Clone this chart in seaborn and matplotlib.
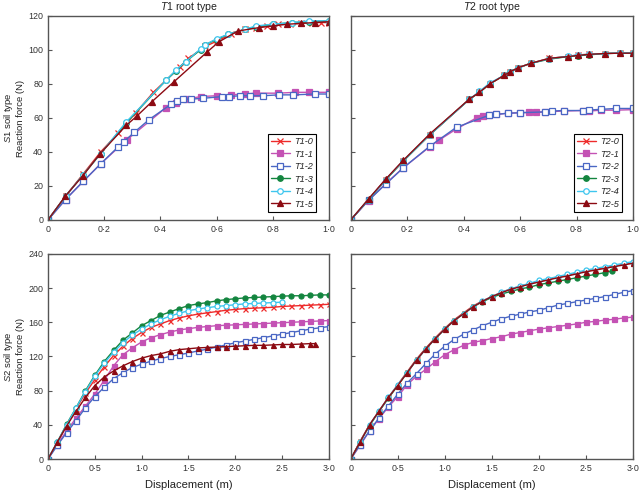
import numpy as np
import pandas as pd
import seaborn as sns
import matplotlib.pyplot as plt
from matplotlib.ticker import FuncFormatter

# ---- S1 soil, T1 root type ----
s1t1_x0 = [0, 0.0625, 0.125, 0.1875, 0.25, 0.3125, 0.375, 0.47, 0.5, 0.56, 0.6, 0.65, 0.7, 0.74, 0.78, 0.82, 0.86, 0.9, 0.94, 0.97, 1.0]
s1t1_y0 = [0, 14, 27, 40, 51, 63, 75, 90, 95, 102, 105, 109, 112, 113, 114, 115, 115, 115.5, 116, 116, 116]
s1t1_x1 = [0, 0.0625, 0.125, 0.1875, 0.28, 0.42, 0.455, 0.49, 0.545, 0.6, 0.65, 0.7, 0.74, 0.82, 0.88, 0.93, 1.0]
s1t1_y1 = [0, 12, 22.6, 33, 47, 66, 69, 71, 72.5, 73, 73.5, 74, 74.5, 74.5, 75, 75, 75]
s1t1_x2 = [0, 0.0625, 0.125, 0.1875, 0.25, 0.27, 0.307, 0.36, 0.438, 0.46, 0.48, 0.51, 0.553, 0.62, 0.645, 0.685, 0.72, 0.765, 0.823, 0.873, 0.95, 1.0]
s1t1_y2 = [0, 12, 22.6, 33, 43, 46, 51.5, 59, 68, 70, 71, 71, 71.5, 72.5, 72.5, 73, 73, 73, 73.5, 73.5, 74, 74]
s1t1_x3 = [0, 0.0625, 0.125, 0.1875, 0.278, 0.42, 0.455, 0.49, 0.543, 0.56, 0.6, 0.64, 0.7, 0.74, 0.8, 0.87, 0.93, 1.0]
s1t1_y3 = [0, 14, 26.5, 39, 57, 82, 87.5, 93, 100, 103, 106, 109, 112, 113.5, 115, 116, 116.5, 117]
s1t1_y4 = [0, 14, 26.5, 39, 57.5, 82, 88, 93, 100.5, 103, 106.5, 109, 112, 114, 115, 116, 117, 117]
s1t1_x5 = [0, 0.062, 0.124, 0.186, 0.278, 0.316, 0.37, 0.447, 0.565, 0.607, 0.675, 0.75, 0.8, 0.85, 0.9, 0.95, 1.0]
s1t1_y5 = [0, 14, 26, 39, 55.5, 61, 69.5, 81, 98.5, 104.5, 111, 113, 114, 115, 115.5, 116, 116.5]

# ---- S1 soil, T2 root type ----
s1t2_xa = [0, 0.063, 0.124, 0.186, 0.28, 0.42, 0.456, 0.493, 0.544, 0.564, 0.594, 0.637, 0.704, 0.77, 0.805, 0.843, 0.9, 0.953, 1.0]
s1t2_y0 = [0, 12, 23.7, 34.7, 50, 70.8, 75, 80, 85, 87, 89.4, 92, 95, 96, 97, 97.3, 97.8, 98, 98]
s1t2_y3 = [0, 12, 23.5, 34.5, 50, 70.8, 75, 80, 85, 87, 89.4, 92, 94.5, 96, 96.5, 97, 97.8, 98, 98]
s1t2_y4 = [0, 12, 23.7, 34.7, 50, 70.8, 75.5, 80.5, 85, 87, 89.4, 92, 94.8, 96.2, 97, 97.3, 97.8, 98.2, 98]
s1t2_y5 = [0, 12.3, 24, 35, 50.5, 71, 75, 80, 85, 87, 89.5, 92, 95, 96, 96.7, 97.3, 97.8, 98, 98]
s1t2_x1 = [0, 0.063, 0.124, 0.186, 0.28, 0.314, 0.375, 0.446, 0.468, 0.49, 0.515, 0.556, 0.6, 0.633, 0.657, 0.69, 0.755, 0.822, 0.846, 0.887, 0.94, 1.0]
s1t2_y1 = [0, 11.4, 21.4, 30.6, 43, 47, 53.5, 60, 61, 61.5, 62, 62.7, 63, 63.2, 63.3, 63.5, 64, 64.3, 64, 64.5, 64.5, 64.8]
s1t2_x2 = [0, 0.063, 0.124, 0.186, 0.28, 0.375, 0.49, 0.515, 0.556, 0.6, 0.69, 0.712, 0.755, 0.822, 0.846, 0.887, 0.94, 1.0]
s1t2_y2 = [0, 11.5, 21, 30.6, 43.3, 54.5, 61.5, 62, 62.7, 63, 63.5, 64, 64.3, 64.3, 64.6, 65, 65.5, 65.5]

# ---- S2 soil (displacement 0 - 3 m) ----
xb = [0, 0.1, 0.2, 0.3, 0.4, 0.5, 0.6, 0.7, 0.8, 0.9, 1.0, 1.1, 1.2, 1.3, 1.4, 1.5,
      1.6, 1.7, 1.8, 1.9, 2.0, 2.1, 2.2, 2.3, 2.4, 2.5, 2.6, 2.7, 2.8, 2.9, 3.0]
xb_25 = xb[:26]
xb_285 = [0, 0.1, 0.2, 0.3, 0.4, 0.5, 0.6, 0.7, 0.8, 0.9, 1.0, 1.1, 1.2, 1.3, 1.4, 1.5,
          1.6, 1.7, 1.8, 1.9, 2.0, 2.1, 2.2, 2.3, 2.4, 2.5, 2.6, 2.7, 2.8, 2.85]
xb_278 = [0, 0.1, 0.2, 0.3, 0.4, 0.5, 0.6, 0.7, 0.8, 0.9, 1.0, 1.1, 1.2, 1.3, 1.4, 1.5,
          1.6, 1.7, 1.8, 1.9, 2.0, 2.1, 2.2, 2.3, 2.4, 2.5, 2.6, 2.7, 2.78]

s2t1_y0 = [0, 19, 39, 59, 77, 93, 108, 121, 132, 141, 148, 154, 158, 162, 165, 167.5, 169.5, 171, 172.5, 174, 175, 176, 176.5, 177, 177.5, 178.5, 179, 179.5, 180, 180.5, 181]
s2t1_y1 = [0, 17, 33, 48, 62, 76, 92, 109, 122, 130, 137, 142, 145.5, 148.5, 151, 152.5, 154, 155, 156, 156.5, 157, 157.5, 158, 158.5, 159, 159.5, 160, 160.5, 161, 161.5, 162]
s2t1_y2 = [0, 16, 31, 45, 60, 73, 84, 94, 101, 107, 111, 114.5, 117.5, 120, 122, 124, 126.5, 128.5, 131, 133.5, 136, 138, 140, 142, 144, 146, 148, 150, 152, 153.5, 155]
s2t1_y3 = [0, 20, 41, 60, 80, 98, 114, 127, 139, 147.5, 156, 162, 168, 172, 176, 179.5, 181.5, 183, 185, 186.5, 187.5, 188.5, 189, 189.5, 190, 190.5, 191, 191, 191.5, 192, 192]
s2t1_y4 = [0, 20, 40, 60, 79, 97, 112, 125, 136, 145, 152, 158, 163, 167, 170.5, 173.5, 175.5, 177, 178.5, 179.5, 180.5, 181.5, 182, 182.5, 183, 183.5]
s2t1_y5 = [0, 20, 39, 56, 72, 86, 96, 103, 109, 114, 118, 121, 123, 126, 128, 129, 130, 130.5, 131, 131.5, 132, 132.5, 133, 133, 133.5, 134, 134, 134.5, 135, 135]

s2t2_y0 = [0, 21, 40, 56, 72, 87, 102, 117, 130, 142, 153, 163, 171, 179, 185, 190, 195, 199, 202, 205, 208, 210, 213, 215, 217.5, 220, 222, 224, 226, 228, 230]
s2t2_y1 = [0, 16, 33, 47, 61, 73, 87, 97, 105, 114, 122, 128, 133, 136.5, 138.5, 141, 143, 146, 148, 150, 152, 153.5, 155, 156.5, 158, 160, 161, 162.5, 163.5, 165, 166]
s2t2_y2 = [0, 17, 33, 48, 62, 76, 89, 100, 112, 123, 132, 140, 146, 151, 156, 160, 164, 167, 169.5, 172, 174, 177, 180, 182, 184, 186, 188, 190, 192.5, 195, 197]
s2t2_y3 = [0, 20, 39, 55.5, 71, 86, 101, 116, 129, 141, 152, 162, 170, 178, 184, 189, 193, 196, 199, 201, 204, 206, 208, 210, 212, 214, 216, 218, 220]
s2t2_y4 = [0, 20, 40, 56, 72, 87, 101, 116, 129, 141, 152, 162, 170, 178, 185, 190, 195, 199, 202.5, 205.5, 209, 211, 213.5, 216, 218.5, 221, 223, 225, 227, 229, 231]
s2t2_y5 = [0, 20, 40, 56, 72, 86, 101, 116, 129, 141, 152, 162, 170, 178, 184.5, 190, 194.5, 198.5, 201.5, 204.5, 207, 209.5, 212, 214, 216.5, 219, 221, 223, 225, 227, 229]

# style of the six series: colour, marker, face colour
colors = ['#ee2b2b', '#c452b4', '#4a67c4', '#13853f', '#3ec6ee', '#8c0a12']
markers = ['x', 's', 's', 'o', 'o', '^']
faces = ['#ee2b2b', '#c452b4', 'white', '#13853f', 'white', '#8c0a12']

panels = [
    ('T1', 'S1', [(s1t1_x0, s1t1_y0), (s1t1_x1, s1t1_y1), (s1t1_x2, s1t1_y2),
                  (s1t1_x3, s1t1_y3), (s1t1_x3, s1t1_y4), (s1t1_x5, s1t1_y5)]),
    ('T2', 'S1', [(s1t2_xa, s1t2_y0), (s1t2_x1, s1t2_y1), (s1t2_x2, s1t2_y2),
                  (s1t2_xa, s1t2_y3), (s1t2_xa, s1t2_y4), (s1t2_xa, s1t2_y5)]),
    ('T1', 'S2', [(xb, s2t1_y0), (xb, s2t1_y1), (xb, s2t1_y2),
                  (xb, s2t1_y3), (xb_25, s2t1_y4), (xb_285, s2t1_y5)]),
    ('T2', 'S2', [(xb, s2t2_y0), (xb, s2t2_y1), (xb, s2t2_y2),
                  (xb_278, s2t2_y3), (xb, s2t2_y4), (xb, s2t2_y5)]),
]

sns.set_theme(style='ticks')
plt.rcParams['font.family'] = ['Liberation Sans', 'DejaVu Sans']
plt.rcParams['mathtext.fontset'] = 'custom'
plt.rcParams['mathtext.rm'] = 'Liberation Sans'
plt.rcParams['mathtext.it'] = 'Liberation Sans:italic'

fig = plt.figure(figsize=(6.4, 4.92), dpi=100)
pos = [[0.075, 0.553, 0.439, 0.415], [0.548, 0.553, 0.441, 0.415],
       [0.075, 0.067, 0.439, 0.417], [0.548, 0.067, 0.441, 0.417]]
leg_x = [0.955, 0.962]

dot_fmt = FuncFormatter(lambda v, p: '0' if abs(v) < 1e-9 else ('%.1f' % v).replace('.', '\u00b7'))

for i, (root, soil, series) in enumerate(panels):
    ax = fig.add_axes(pos[i])
    for k, (xs, ys) in enumerate(series):
        ms = 4 if soil == 'S1' else 3.6
        sns.lineplot(x=xs, y=ys, ax=ax, color=colors[k], marker=markers[k], markersize=ms,
                     mfc=faces[k], mec=colors[k], mew=0.9, lw=1.0, sort=False,
                     label=f'{root}-{k}')
    if soil == 'S1':
        ax.set_xlim(0, 1.0)
        ax.set_ylim(0, 120)
        ax.set_xticks([0, 0.2, 0.4, 0.6, 0.8, 1.0])
        ax.set_yticks([0, 20, 40, 60, 80, 100, 120])
        ax.set_title(r'$\mathit{' + root + '}$ root type', fontsize=7.6, pad=4, color='#222222')
        ax.legend(loc='lower right', bbox_to_anchor=(leg_x[i], 0.04), frameon=True, fancybox=False,
                  edgecolor='black', framealpha=1, prop={'style': 'italic', 'size': 6.6},
                  handlelength=2.0, labelspacing=0.38, borderpad=0.35, handletextpad=0.5,
                  borderaxespad=0)
        ax.legend_.get_frame().set_linewidth(0.8)
    else:
        ax.set_xlim(0, 3.0)
        ax.set_ylim(0, 240)
        ax.set_xticks([0, 0.5, 1.0, 1.5, 2.0, 2.5, 3.0])
        ax.set_yticks([0, 40, 80, 120, 160, 200, 240])
        ax.set_xlabel('Displacement (m)', fontsize=8, color='#222222', labelpad=5)
        ax.legend_.remove()
    ax.xaxis.set_major_formatter(dot_fmt)
    ax.set_ylabel('')
    if i % 2 == 1:
        ax.set_yticklabels([])
    ax.tick_params(direction='in', length=3, width=0.8, labelsize=6.4, colors='#555555',
                   labelcolor='#333333', top=False, right=False, pad=3.5)
    for sp in ax.spines.values():
        sp.set_visible(True)
        sp.set_color('#555555')
        sp.set_linewidth(1.0)

# row labels on the left
for soil, yc in [('S1', 0.760), ('S2', 0.2754)]:
    fig.text(9 / 640, yc, r'$\mathit{' + soil + '}$ soil type', rotation=90, ha='center', va='center',
             fontsize=6.8, color='#222222')
    fig.text(21 / 640, yc, 'Reaction force (N)', rotation=90, ha='center', va='center',
             fontsize=6.8, color='#222222')

fig.savefig('out.png', dpi=100, facecolor='white')
